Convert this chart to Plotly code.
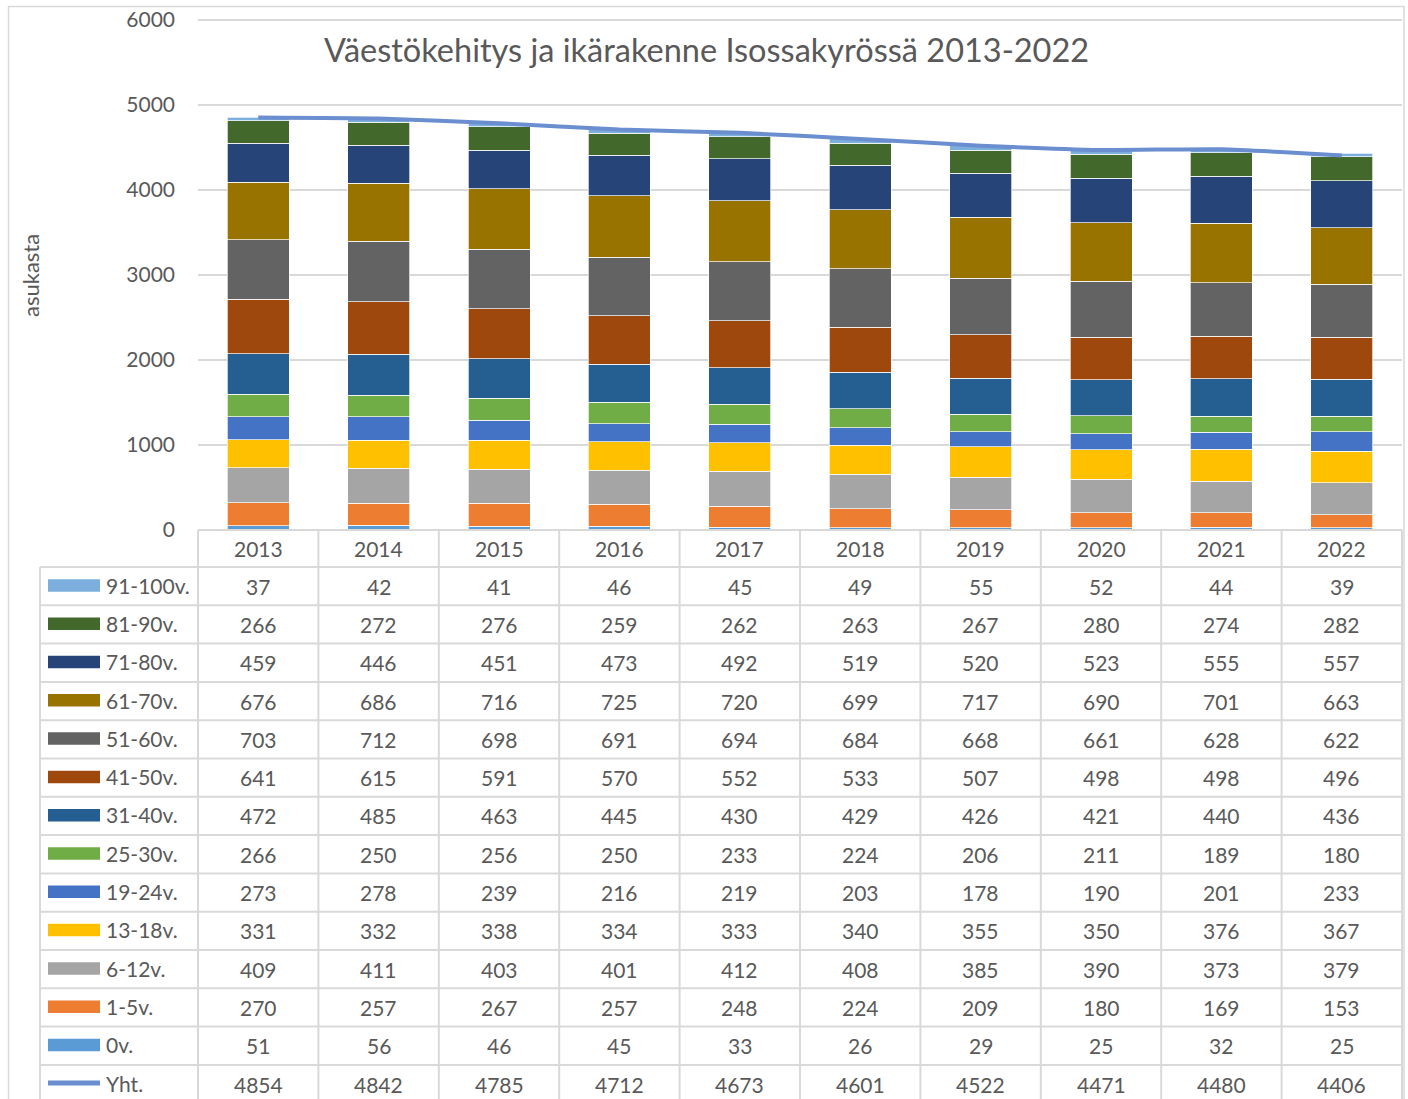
import plotly.graph_objects as go

years = ["2013", "2014", "2015", "2016", "2017", "2018", "2019", "2020", "2021", "2022"]

# age groups (bottom -> top of stack)
v0 = [51, 56, 46, 45, 33, 26, 29, 25, 32, 25]
v1_5 = [270, 257, 267, 257, 248, 224, 209, 180, 169, 153]
v6_12 = [409, 411, 403, 401, 412, 408, 385, 390, 373, 379]
v13_18 = [331, 332, 338, 334, 333, 340, 355, 350, 376, 367]
v19_24 = [273, 278, 239, 216, 219, 203, 178, 190, 201, 233]
v25_30 = [266, 250, 256, 250, 233, 224, 206, 211, 189, 180]
v31_40 = [472, 485, 463, 445, 430, 429, 426, 421, 440, 436]
v41_50 = [641, 615, 591, 570, 552, 533, 507, 498, 498, 496]
v51_60 = [703, 712, 698, 691, 694, 684, 668, 661, 628, 622]
v61_70 = [676, 686, 716, 725, 720, 699, 717, 690, 701, 663]
v71_80 = [459, 446, 451, 473, 492, 519, 520, 523, 555, 557]
v81_90 = [266, 272, 276, 259, 262, 263, 267, 280, 274, 282]
v91_100 = [37, 42, 41, 46, 45, 49, 55, 52, 44, 39]
yht = [4854, 4842, 4785, 4712, 4673, 4601, 4522, 4471, 4480, 4406]

series = [
    ("0v.", v0, "#5B9BD5"),
    ("1-5v.", v1_5, "#ED7D31"),
    ("6-12v.", v6_12, "#A5A5A5"),
    ("13-18v.", v13_18, "#FFC000"),
    ("19-24v.", v19_24, "#4472C4"),
    ("25-30v.", v25_30, "#70AD47"),
    ("31-40v.", v31_40, "#255E91"),
    ("41-50v.", v41_50, "#9E480E"),
    ("51-60v.", v51_60, "#636363"),
    ("61-70v.", v61_70, "#997300"),
    ("71-80v.", v71_80, "#264478"),
    ("81-90v.", v81_90, "#43682B"),
    ("91-100v.", v91_100, "#7CAFDD"),
]
line_name = "Yht."
line_color = "#6A8ED0"

W_FIG, H_FIG = 1408, 1099
PL, PR, PT, PB = 198, 1402, 10, 530  # plot area, in screen pixels
Y6000 = 20  # screen y of the 6000 grid line
YMAX = 6000 * (PB - PT) / (PB - Y6000)

def px(x):
    return (x - PL) / (PR - PL)

def py(y):
    return (PB - y) / (PB - PT)

GRID = "#D9D9D9"
TXT = "#595959"
FONT = "Lato, Open Sans, sans-serif"

fig = go.Figure()
for name, vals, col in series:
    fig.add_trace(go.Bar(x=years, y=vals, name=name, marker=dict(color=col, line=dict(color="white", width=0.7))))
fig.add_trace(go.Scatter(x=years, y=yht, name=line_name, mode="lines",
                         line=dict(color=line_color, width=4, shape="spline", smoothing=0.5)))

shapes = []
annos = []

# outer chart border
shapes.append(dict(type="rect", xref="paper", yref="paper", x0=px(8.5), x1=px(1404), y0=py(1120), y1=py(6.5),
                   line=dict(color=GRID, width=1.5), fillcolor="rgba(0,0,0,0)", layer="below"))

# table geometry
ncol = len(years)
colw = (PR - PL) / ncol
row_top = 567
row_h = 38.3
rows = list(reversed(series)) + [(line_name, yht, line_color)]
bottom = 1110

shapes.append(dict(type="line", xref="paper", yref="paper", x0=px(PL), x1=px(PR), y0=py(PB), y1=py(PB),
                   line=dict(color=GRID, width=2)))
for k in range(len(rows) + 1):
    yy = row_top + k * row_h
    shapes.append(dict(type="line", xref="paper", yref="paper", x0=px(40), x1=px(PR), y0=py(yy), y1=py(yy),
                       line=dict(color=GRID, width=2)))
for k in range(ncol + 1):
    xx = PL + k * colw
    shapes.append(dict(type="line", xref="paper", yref="paper", x0=px(xx), x1=px(xx), y0=py(PB), y1=py(bottom),
                       line=dict(color=GRID, width=2)))
shapes.append(dict(type="line", xref="paper", yref="paper", x0=px(40), x1=px(40), y0=py(row_top), y1=py(bottom),
                   line=dict(color=GRID, width=2)))

for i, yr in enumerate(years):
    annos.append(dict(xref="paper", yref="paper", x=px(PL + (i + 0.5) * colw), y=py(548.5), text=yr,
                      showarrow=False, font=dict(family=FONT, size=21, color=TXT), xanchor="center", yanchor="middle"))

for r, (name, vals, col) in enumerate(rows):
    yc = row_top + (r + 0.5) * row_h
    if name == line_name:
        shapes.append(dict(type="line", xref="paper", yref="paper", x0=px(48), x1=px(100), y0=py(yc - 1), y1=py(yc - 1),
                           line=dict(color=col, width=5)))
    else:
        shapes.append(dict(type="rect", xref="paper", yref="paper", x0=px(48), x1=px(100), y0=py(yc + 5.5), y1=py(yc - 7),
                           line=dict(width=0), fillcolor=col))
    annos.append(dict(xref="paper", yref="paper", x=px(104), y=py(yc - 1), text=name, showarrow=False,
                      font=dict(family=FONT, size=21, color=TXT), xanchor="left", yanchor="middle"))
    for i, v in enumerate(vals):
        annos.append(dict(xref="paper", yref="paper", x=px(PL + (i + 0.5) * colw), y=py(yc), text=str(v),
                          showarrow=False, font=dict(family=FONT, size=21, color=TXT), xanchor="center", yanchor="middle"))

annos.append(dict(xref="paper", yref="paper", x=px(706), y=py(50), text="Väestökehitys ja ikärakenne Isossakyrössä 2013-2022",
                  showarrow=False, font=dict(family=FONT, size=32.5, color=TXT), xanchor="center", yanchor="middle"))
annos.append(dict(xref="paper", yref="paper", x=px(30), y=py(276), text="asukasta", textangle=-90,
                  showarrow=False, font=dict(family=FONT, size=22, color=TXT), xanchor="center", yanchor="middle"))

fig.update_layout(
    width=W_FIG, height=H_FIG,
    margin=dict(l=PL, r=W_FIG - PR, t=PT, b=H_FIG - PB, pad=0, autoexpand=False),
    barmode="stack", bargap=0.485,
    plot_bgcolor="white", paper_bgcolor="white",
    showlegend=False,
    shapes=shapes, annotations=annos,
    xaxis=dict(showticklabels=False, showgrid=False, zeroline=False, showline=False, ticks=""),
    yaxis=dict(range=[0, YMAX], tick0=0, dtick=1000, showgrid=True, gridcolor=GRID, gridwidth=2, zeroline=False,
               showline=False, tickfont=dict(family=FONT, size=21, color=TXT), ticks="", ticklabelstandoff=22,
               ticklabeloverflow="allow"),
    font=dict(family=FONT, color=TXT),
)

fig.write_html("out.html", config={"displayModeBar": False},
               post_script="document.body.style.margin='0';document.body.style.overflow='hidden';")
